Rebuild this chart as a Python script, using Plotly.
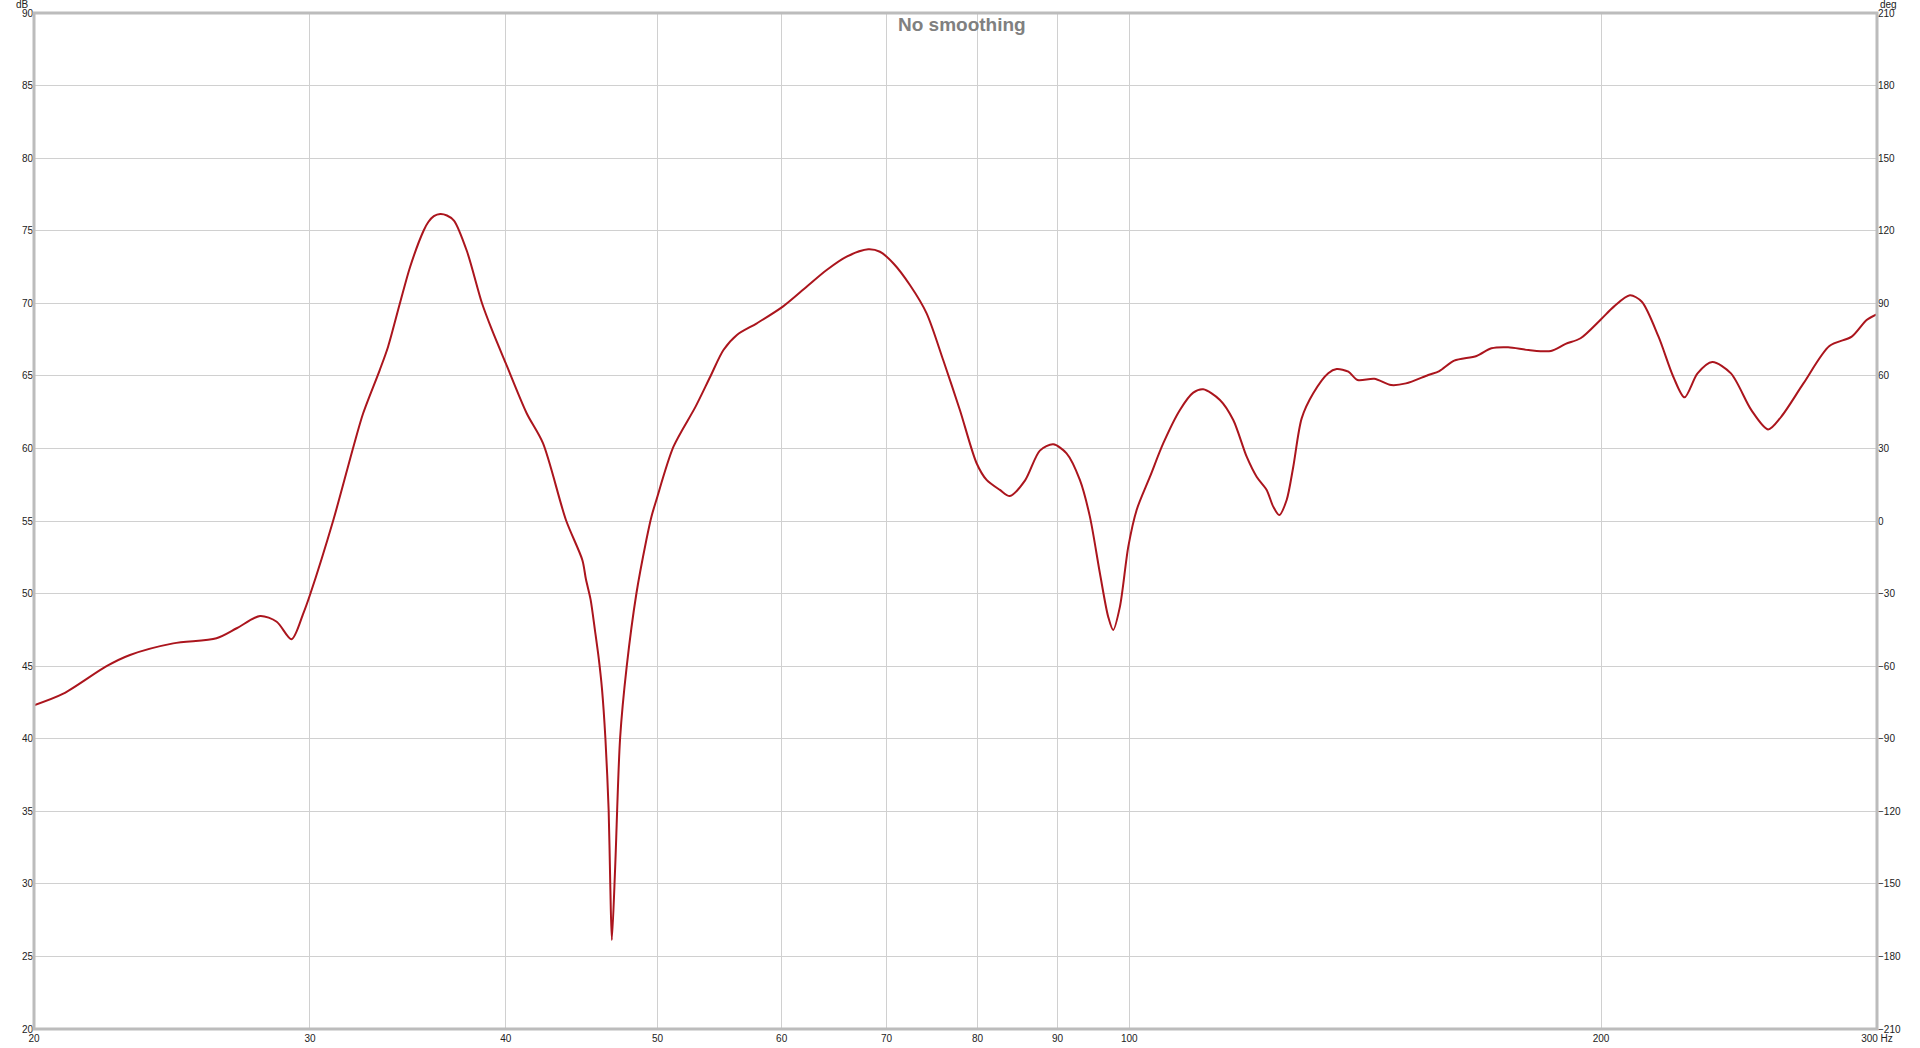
import plotly.graph_objects as go

# ---- data ----
freq_hz = [20.0, 20.88, 22.25, 23.03, 24.54, 26.15, 26.94, 27.88, 28.57, 29.20,
           29.71, 30.0, 31.05, 31.98, 32.44, 33.24, 33.65, 34.24, 34.76, 35.45,
           35.7, 35.99, 36.33, 36.69, 37.07, 37.78, 38.63, 39.20, 40.0, 41.25, 42.25, 43.70, 44.77,
           45.0, 45.31, 45.6, 45.85, 46.08, 46.31, 46.53, 46.64, 46.75, 46.98, 47.32,
           47.78, 48.47, 49.18, 49.55, 49.91, 51.18, 52.87, 54.02, 55.08, 56.18,
           57.85, 60.1, 62.24, 64.10, 66.01, 68.14, 69.32, 70.69, 72.44, 74.24,
           76.07, 77.96, 79.90, 81.08, 82.68, 83.90, 85.8, 87.68, 89.42, 91.19,
           92.99, 94.37, 95.77, 96.94, 97.66, 98.63, 99.85, 101.08, 103.08, 105.12,
           107.72, 109.85, 111.47, 114.24, 116.50, 118.82, 120.57, 122.36, 123.55, 124.65,
           126.01, 127.24, 128.82, 131.03, 133.95, 135.62, 137.97, 139.87, 143.34, 146.90,
           150.15, 155.15, 157.70, 161.19, 166.57, 170.25, 174.49, 179.80, 185.78, 189.86,
           194.07, 200.0, 203.8, 208.67, 212.35, 217.62, 222.40, 226.09, 230.46, 235.52,
           242.06, 249.43, 255.66, 260.59, 269.27, 279.73, 289.06, 295.45, 300.0]
spl_db = [42.3, 43.1, 45.0, 45.77, 46.57, 46.92, 47.61, 48.46, 48.06, 46.85,
          48.64, 49.9, 55.07, 60.12, 62.42, 65.40, 67.01, 70.0, 72.52, 75.0,
          75.6, 76.0, 76.15, 76.05, 75.7, 73.6, 70.0, 68.16, 65.87, 62.42, 60.36, 55.07, 52.3,
          51.0, 49.6, 47.5, 45.6, 43.4, 40.0, 35.09, 30.04, 26.13, 31.18, 40.03,
          44.96, 50.02, 53.69, 55.30, 56.45, 60.12, 62.88, 64.94, 66.78, 67.82,
          68.62, 69.77, 71.14, 72.29, 73.21, 73.72, 73.55, 72.76, 71.26, 69.31,
          66.09, 62.65, 58.98, 57.83, 57.14, 56.72, 57.8, 59.85, 60.28, 59.66,
          57.83, 55.30, 51.40, 48.41, 47.49, 49.10, 53.23, 55.76, 58.05, 60.36,
          62.65, 63.84, 64.07, 63.34, 61.96, 59.43, 58.05, 57.14, 55.99, 55.41,
          56.45, 58.74, 62.07, 63.80, 65.18, 65.47, 65.29, 64.71, 64.80, 64.37,
          64.48, 65.06, 65.33, 66.05, 66.37, 66.90, 66.97, 66.78, 66.71, 67.20,
          67.59, 68.90, 69.77, 70.55, 70.11, 67.70, 64.94, 63.52, 65.17, 65.95,
          65.17, 62.64, 61.31, 62.18, 64.48, 67.06, 67.70, 68.85, 69.26]

x_tick_vals = [20, 30, 40, 50, 60, 70, 80, 90, 100, 200, 300]
x_tick_text = ["20", "30", "40", "50", "60", "70", "80", "90", "100", "200", "300 Hz"]
db_ticks = [20, 25, 30, 35, 40, 45, 50, 55, 60, 65, 70, 75, 80, 85, 90]
deg_ticks = [-210, -180, -150, -120, -90, -60, -30, 0, 30, 60, 90, 120, 150, 180, 210]

title_text = "No smoothing"
left_unit = "dB"
right_unit = "deg"

FONT = "Liberation Sans, Arial, sans-serif"
GRID = "#d0d0d0"
TXT = "#222222"

fig = go.Figure()
fig.add_trace(go.Scatter(
    x=freq_hz, y=spl_db, mode="lines",
    line=dict(color="#ab151d", width=2, shape="spline", smoothing=0.8),
    hoverinfo="skip", showlegend=False,
))
# invisible trace for secondary axis
fig.add_trace(go.Scatter(x=[20, 300], y=[-210, 210], yaxis="y2", mode="lines",
                         line=dict(width=0), opacity=0, showlegend=False, hoverinfo="skip"))

fig.update_layout(
    width=1920, height=1048,
    margin=dict(l=34, r=43, t=13, b=19, pad=0, autoexpand=False),
    paper_bgcolor="white", plot_bgcolor="white",
    font=dict(family=FONT, size=10, color=TXT),
    showlegend=False,
    xaxis=dict(type="log", range=[1.30103, 2.4771213], tickvals=x_tick_vals, ticktext=x_tick_text,
               showgrid=True, gridcolor=GRID, gridwidth=1, zeroline=False, ticks="",
               ticklabelstandoff=2,
               tickfont=dict(size=10, family=FONT, color=TXT), showline=False, automargin=False),
    yaxis=dict(range=[20, 90], tickvals=db_ticks, showgrid=True, gridcolor=GRID, gridwidth=1,
               zeroline=False, ticks="", tickfont=dict(size=10, family=FONT, color=TXT),
               showline=False, automargin=False),
    yaxis2=dict(range=[-210, 210], tickvals=deg_ticks, overlaying="y", side="right",
                showgrid=False, zeroline=False, ticks="", automargin=False,
                tickfont=dict(size=10, family=FONT, color=TXT)),
    annotations=[
        dict(text="<b>" + title_text + "</b>", xref="paper", yref="paper", x=0.5035, y=1.0,
             xanchor="center", yanchor="top", yshift=1, showarrow=False,
             font=dict(size=19, color="#808080", family=FONT)),
        dict(text=left_unit, xref="paper", yref="paper", x=0, y=1, xanchor="right", yanchor="bottom",
             xshift=-3, yshift=1, showarrow=False, font=dict(size=10, color=TXT, family=FONT)),
        dict(text=right_unit, xref="paper", yref="paper", x=1, y=1, xanchor="left", yanchor="bottom",
             xshift=1, yshift=1, showarrow=False, font=dict(size=10, color=TXT, family=FONT)),
    ],
    shapes=[dict(type="rect", xref="paper", yref="paper", x0=0, y0=0, x1=1, y1=1,
                 line=dict(color="#bcbcbc", width=3), layer="above")],
)

fig.write_html("out.html", config={"displayModeBar": False},
               post_script="document.body.style.margin='0';document.body.style.overflow='hidden';")
